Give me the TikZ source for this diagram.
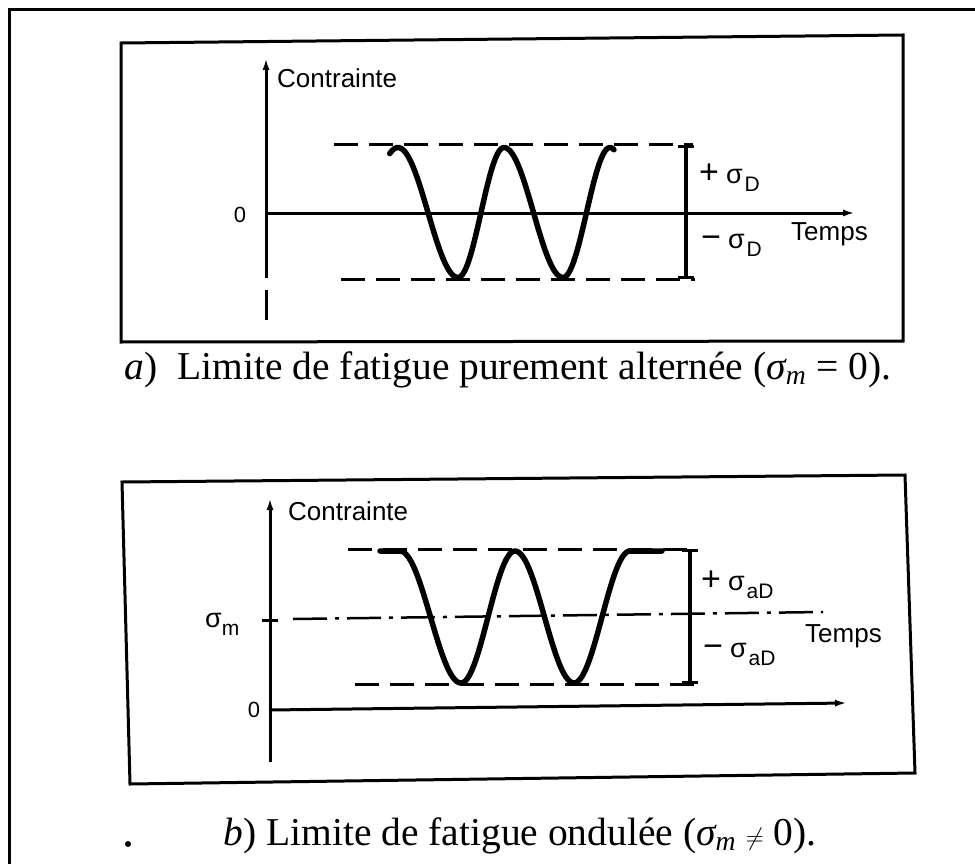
\documentclass[tikz,border=0pt]{standalone}
\usepackage{fontspec}
\setmainfont{Liberation Serif}
\newfontfamily\lsans{Liberation Sans}
\usetikzlibrary{arrows.meta}
\newcommand{\bigsign}[1]{{\fontsize{34}{34}\selectfont #1}\hspace{7pt}}
\newcommand{\lowsub}[1]{\hspace{2pt}\raisebox{-8pt}{\fontsize{21}{21}\selectfont #1}}
\begin{document}
\begin{tikzpicture}[x=1pt,y=-1pt,
  frameln/.style={line width=3pt, line join=miter},
  axis/.style={line width=3pt, -{Latex[length=12pt,width=7pt]}},
  plainln/.style={line width=3pt},
  dashln/.style={line width=3pt, dash pattern=on 24pt off 11pt},
  dashdot/.style={line width=2.5pt, dash pattern=on 34pt off 8pt on 4pt off 8pt},
  wave/.style={line width=5.5pt, line join=round, line cap=round},
  barln/.style={line width=3.5pt, {Bar[width=16pt,line width=3pt]}-{Bar[width=16pt,line width=3pt]}},
  slab/.style={font=\lsans\fontsize{26}{26}\selectfont, inner sep=0pt},
  zlab/.style={font=\lsans\fontsize{22}{22}\selectfont, inner sep=0pt},
  glab/.style={font=\lsans\fontsize{27}{27}\selectfont, inner sep=0pt, anchor=base west},
  captext/.style={font=\fontsize{39.5}{39.5}\selectfont, inner sep=0pt}
]
\useasboundingbox (0,0) rectangle (975,864);
% outer frame
\coordinate (o1) at (9,880);
\coordinate (o2) at (9,10);
\coordinate (o3) at (990,10);
\draw[frameln] (o1) -- (o2) -- (o3);

% ---------- panel a ----------
\coordinate (a1) at (121,43);
\coordinate (a2) at (903,35);
\coordinate (a3) at (903,341);
\coordinate (a4) at (121,342);
\draw[frameln] (a1) -- (a2) -- (a3) -- (a4) -- cycle;

\coordinate (ay0) at (266,278);
\coordinate (ay1) at (266,58);
\coordinate (ay2) at (266,290);
\coordinate (ay3) at (266,320);
\draw[axis] (ay0) -- (ay1);
\draw[plainln] (ay2) -- (ay3);
\coordinate (ax0) at (265,213);
\coordinate (ax1) at (855,213);
\draw[axis] (ax0) -- (ax1);

\node[zlab] (za) at (240,215) {0};
\node[slab, anchor=west] (ca) at (277,78) {Contrainte};

\coordinate (at0) at (334,145);
\coordinate (at1) at (693,145);
\coordinate (ab0) at (341,279);
\coordinate (ab1) at (695,279);
\draw[dashln] (at0) -- (at1);
\draw[dashln] (ab0) -- (ab1);

\coordinate (abt) at (686,145);
\coordinate (abb) at (686,279);
\draw[barln] (abt) -- (abb);

\node[glab] (spa) at (699,184) {\bigsign{+}σ\lowsub{D}};
\node[glab] (sma) at (701,248) {\bigsign{−}σ\lowsub{D}};
\node[slab, anchor=west] (ta) at (791,234) {Temps};

\draw[wave] plot[domain=-25:180,samples=30] ({398+60*\x/180},{212.5-65*cos(\x)})
  -- plot[domain=0:180,samples=30] ({458+46*\x/180},{212.5+65*cos(\x)})
  -- plot[domain=0:180,samples=30] ({504+59*\x/180},{212.5-65*cos(\x)})
  -- plot[domain=0:195,samples=30] ({563+47*\x/180},{212.5+65*cos(\x)});

\node[captext] (capa) at (508,370) {\textit{a})\ \ Limite de fatigue purement alternée ({\itshape σ}\textsubscript{\itshape m} = 0).};

% ---------- panel b ----------
\coordinate (b1) at (122,482);
\coordinate (b2) at (905,475);
\coordinate (b3) at (915,773);
\coordinate (b4) at (130,784);
\draw[frameln] (b1) -- (b2) -- (b3) -- (b4) -- cycle;

\coordinate (by0) at (270,762);
\coordinate (by1) at (270,498);
\draw[axis] (by0) -- (by1);
\coordinate (bx0) at (269,710);
\coordinate (bx1) at (847,703);
\draw[axis] (bx0) -- (bx1);
\coordinate (bk0) at (262,620);
\coordinate (bk1) at (278,620);
\draw[plainln] (bk0) -- (bk1);

\node[zlab] (zb) at (254,710) {0};
\node[glab] (smb) at (205,627) {σ\raisebox{-8pt}{\fontsize{21}{21}\selectfont m}};
\node[slab, anchor=west] (cb) at (288,511) {Contrainte};

\coordinate (bt0) at (348,549);
\coordinate (bt1) at (694,549);
\coordinate (bb0) at (355,684);
\coordinate (bb1) at (699,684);
\draw[dashln] (bt0) -- (bt1);
\draw[dashln] (bb0) -- (bb1);
\coordinate (bm0) at (293,619);
\coordinate (bm1) at (823,612);
\draw[dashdot] (bm0) -- (bm1);

\coordinate (bbt) at (690,549);
\coordinate (bbb) at (690,684);
\draw[barln] (bbt) -- (bbb);

\node[glab] (spb) at (701,590) {\bigsign{+}σ\lowsub{aD}};
\node[glab] (smb2) at (703,657) {\bigsign{−}σ\lowsub{aD}};
\node[slab, anchor=west] (tb) at (805,636) {Temps};

\coordinate (w0) at (380,551);
\coordinate (w1) at (400,551);
\coordinate (w2) at (662,551);
\draw[wave] (w0) -- (w1)
  -- plot[domain=0:180,samples=30] ({400+61*\x/180},{617-66*cos(\x)})
  -- plot[domain=0:180,samples=30] ({461+54*\x/180},{617+66*cos(\x)})
  -- plot[domain=0:180,samples=30] ({515+59*\x/180},{617-66*cos(\x)})
  -- plot[domain=0:180,samples=30] ({574+56*\x/180},{617+66*cos(\x)})
  -- (w2);

\node[captext] (capb) at (520,836) {\textit{b})\ Limite de fatigue ondulée ({\itshape σ}\textsubscript{\itshape m} $\neq$ 0).};
\fill (128,844) circle[radius=3] coordinate (dot);
\end{tikzpicture}
\end{document}
